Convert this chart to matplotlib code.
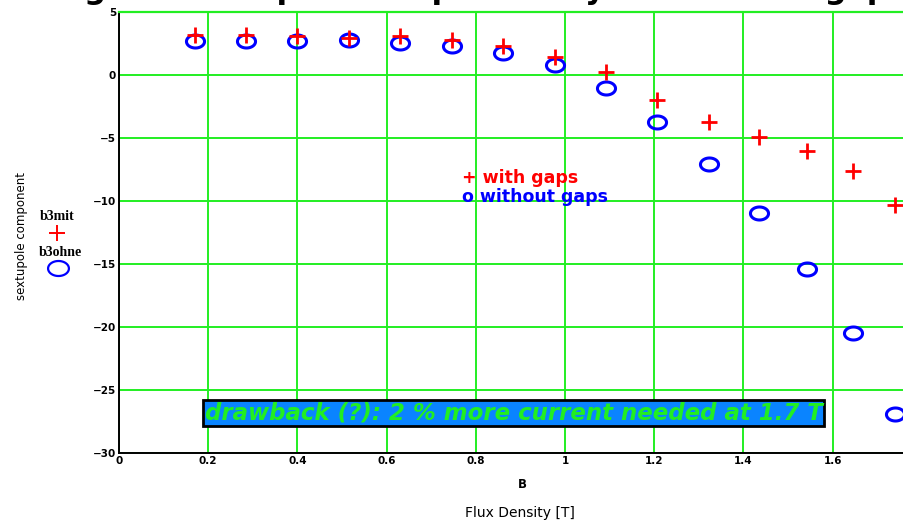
"""Sextupole component b3 vs flux density, with and without gaps."""
import numpy as np
import matplotlib
matplotlib.use("Agg")
import matplotlib.pyplot as plt
from matplotlib.path import Path

plt.rcParams["font.family"] = ["DejaVu Sans"]

# Flux density B [T] (same for both series)
B = [0.170, 0.285, 0.399, 0.515, 0.630, 0.747, 0.862, 0.977, 1.092, 1.207,
     1.322, 1.435, 1.543, 1.645, 1.740]
# sextupole component with gaps (b3mit)
b3mit = [3.14, 3.14, 3.12, 2.95, 3.06, 2.80, 2.27, 1.41, 0.22, -1.95,
         -3.75, -4.94, -6.06, -7.65, -10.3]
# sextupole component without gaps (b3ohne)
b3ohne = [2.69, 2.69, 2.69, 2.80, 2.56, 2.32, 1.76, 0.76, -1.02, -3.75,
          -7.06, -10.99, -15.4, -20.5, -26.9]

xticks = [0, 0.2, 0.4, 0.6, 0.8, 1, 1.2, 1.4, 1.6]
xticklabels = ["0", "0.2", "0.4", "0.6", "0.8", "1", "1.2", "1.4", "1.6"]
yticks = [5, 0, -5, -10, -15, -20, -25, -30]

GREEN = "#22ee22"

# flattened circle marker, like the original plot
t = np.linspace(0, 2 * np.pi, 60)
ellipse = Path(np.column_stack([np.cos(t), 0.72 * np.sin(t)]), closed=True)

fig = plt.figure(figsize=(9.04, 5.21), dpi=100)
ax = fig.add_axes([119 / 904, 68 / 521, 1 - 119 / 904, 441 / 521])

ax.plot(B, b3mit, ls="none", marker="+", ms=11, mew=2, color="red", zorder=4)
ax.plot(B, b3ohne, ls="none", marker=ellipse, ms=13, mew=2.2, mfc="none",
        mec="blue", zorder=3)

ax.set_xlim(0, 1.760)
ax.set_ylim(-30, 5)
ax.set_xticks(xticks)
ax.set_xticklabels(xticklabels)
ax.set_yticks(yticks)
ax.grid(True, color=GREEN, lw=1.4)
ax.set_axisbelow(True)
ax.tick_params(length=0, pad=2, labelsize=7.5)
for lab in ax.get_xticklabels() + ax.get_yticklabels():
    lab.set_fontweight("bold")
ax.spines["right"].set_visible(False)
ax.spines["top"].set_color(GREEN)
ax.spines["top"].set_linewidth(1.6)
ax.spines["left"].set_linewidth(1.4)
ax.spines["bottom"].set_linewidth(1.4)

# annotations inside the plot
ax.text(0.769, -8.2, "+ with gaps", color="red", fontsize=12.5,
        fontweight="bold", ha="left", va="center")
ax.text(0.769, -9.7, "o without gaps", color="blue", fontsize=12.5,
        fontweight="bold", ha="left", va="center")
ax.text(0.8845, -26.83, "drawback (?): 2 % more current needed at 1.7 T",
        color="#22ee22", fontsize=16.5, fontweight="bold", style="italic",
        ha="center", va="center",
        bbox=dict(boxstyle="square,pad=0.06", fc="#0a84ff", ec="black", lw=2))

# axis labels
fig.text(522 / 904, 1 - 484 / 521, "B", fontsize=8.5, fontweight="bold",
         ha="center", va="center")
fig.text(520 / 904, 1 - 513 / 521, "Flux Density [T]", fontsize=10,
         ha="center", va="center")
fig.text(22 / 904, 1 - 236 / 521, "sextupole component", fontsize=8.5,
         rotation=90, ha="center", va="center")

# series legend on the left
fig.text(57 / 904, 1 - 216 / 521, "b3mit", fontsize=10, fontweight="bold",
         family="Liberation Serif", ha="center", va="center")
fig.text(60 / 904, 1 - 252 / 521, "b3ohne", fontsize=10, fontweight="bold",
         family="Liberation Serif", ha="center", va="center")
lax = fig.add_axes([0, 0, 1, 1], facecolor="none")
lax.set_xlim(0, 904)
lax.set_ylim(521, 0)
lax.axis("off")
lax.plot([57], [233], ls="none", marker="+", ms=11, mew=1.4, color="red")
lax.plot([58], [268], ls="none", marker=ellipse, ms=15, mew=1.6,
         mfc="none", mec="blue")

# title, cut off at the top of the picture (only descenders visible)
fig.text(0.5, 1 + 1 / 521, "Change of sextupole component by insertion of gaps",
         fontsize=22, fontweight="bold", ha="center", va="baseline")

fig.savefig("out.png", dpi=100)
